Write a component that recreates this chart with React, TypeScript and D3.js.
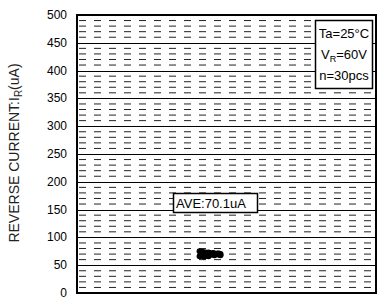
import React, { useRef, useEffect } from 'react';
import * as d3 from 'd3';

// sample index position (arbitrary x, 0-100) and reverse current values (uA)
const sampleX = [41, 41, 41.5, 41.5, 42, 42, 42, 42.5, 42.5, 43, 43, 43, 43.5, 43.5, 44, 44, 44, 44.5,
  45, 45, 45.5, 45.5, 46, 46, 47, 47, 47.5, 47.5, 48, 48];
const currentUA = [66, 75, 68, 72, 67, 73, 74, 70, 65, 72, 69, 73, 67, 72, 70, 66, 73, 71,
  69, 71, 70, 72, 68, 71, 70, 71, 69, 71, 68, 70];
const yTicks = [0, 50, 100, 150, 200, 250, 300, 350, 400, 450, 500];
const minorTicks = d3.range(10, 500, 10).filter(v => v % 50 !== 0);
const legendLines = ['Ta=25°C', 'VR=60V', 'n=30pcs'];
const aveLabel = 'AVE:70.1uA';

function App() {
  const svgRef = useRef<SVGSVGElement>(null);

  useEffect(() => {
    const svg = d3.select(svgRef.current);
    svg.selectAll('*').remove();

    const width = 381;
    const height = 297;
    const margin = { top: 15, right: 5, bottom: 4, left: 77 };
    const font = 'Liberation Sans, Arial, sans-serif';

    const x = d3.scaleLinear()
      .domain([0, 100])
      .range([margin.left, width - margin.right]);

    const y = d3.scaleLinear()
      .domain([0, 500])
      .range([height - margin.bottom, margin.top]);

    // minor dashed grid
    svg.append('g')
      .selectAll('line')
      .data(minorTicks)
      .join('line')
      .attr('x1', margin.left + 2)
      .attr('x2', width - margin.right)
      .attr('y1', d => y(d))
      .attr('y2', d => y(d))
      .attr('stroke', '#222')
      .attr('stroke-width', 1)
      .attr('stroke-dasharray', '7,8');

    // major grid
    svg.append('g')
      .selectAll('line')
      .data(yTicks)
      .join('line')
      .attr('x1', margin.left)
      .attr('x2', width - margin.right)
      .attr('y1', d => Math.round(y(d)) + 0.5)
      .attr('y2', d => Math.round(y(d)) + 0.5)
      .attr('stroke', '#000')
      .attr('stroke-width', 1);

    // frame
    svg.append('rect')
      .attr('x', margin.left)
      .attr('y', margin.top)
      .attr('width', width - margin.right - margin.left)
      .attr('height', height - margin.bottom - margin.top)
      .attr('fill', 'none')
      .attr('stroke', '#000')
      .attr('stroke-width', 2);

    // y tick labels
    svg.append('g')
      .selectAll('text')
      .data(yTicks)
      .join('text')
      .attr('x', 67)
      .attr('y', d => y(d))
      .attr('dy', '0.33em')
      .attr('text-anchor', 'end')
      .attr('font-family', font)
      .attr('font-size', 12)
      .text(d => d);

    // y axis title
    const title = svg.append('text')
      .attr('transform', 'translate(19, 153) rotate(-90)')
      .attr('text-anchor', 'middle')
      .attr('font-family', font)
      .attr('font-size', 14)
      .attr('fill', '#222');
    title.append('tspan').text('REVERSE CURRENT:I');
    title.append('tspan').attr('font-size', 10).attr('dy', 3).text('R');
    title.append('tspan').attr('dy', -3).text('(uA)');

    // AVE box
    const aveBox = svg.append('g');
    aveBox.append('rect')
      .attr('x', 173.5)
      .attr('y', 193.5)
      .attr('width', 84)
      .attr('height', 19)
      .attr('fill', '#fff')
      .attr('stroke', '#000')
      .attr('stroke-width', 1.5);
    aveBox.append('text')
      .attr('x', 176)
      .attr('y', 208)
      .attr('font-family', font)
      .attr('font-size', 13)
      .text(aveLabel);

    // points
    svg.append('g')
      .selectAll('circle')
      .data(currentUA)
      .join('circle')
      .attr('cx', (d, i) => x(sampleX[i]))
      .attr('cy', d => y(d))
      .attr('r', 3)
      .attr('fill', '#000');

    // condition legend
    const lg = svg.append('g');
    lg.append('rect')
      .attr('x', 315.5)
      .attr('y', 20.5)
      .attr('width', 57)
      .attr('height', 68)
      .attr('fill', '#fff')
      .attr('stroke', '#000')
      .attr('stroke-width', 1.5);
    lg.selectAll('text')
      .data(legendLines)
      .join('text')
      .attr('x', 344)
      .attr('y', (d, i) => 38 + i * 21)
      .attr('text-anchor', 'middle')
      .attr('font-family', font)
      .attr('font-size', 13)
      .each(function (d) {
        const t = d3.select(this);
        if (d.startsWith('VR')) {
          t.append('tspan').text('V');
          t.append('tspan').attr('font-size', 9).attr('dy', 3).text('R');
          t.append('tspan').attr('dy', -3).text(d.slice(2));
        } else {
          t.text(d);
        }
      });
  }, []);

  return (
    <svg ref={svgRef} width={381} height={297}
      style={{ position: 'absolute', left: 0, top: 0, background: '#fff' }}></svg>
  );
}

export default App;
